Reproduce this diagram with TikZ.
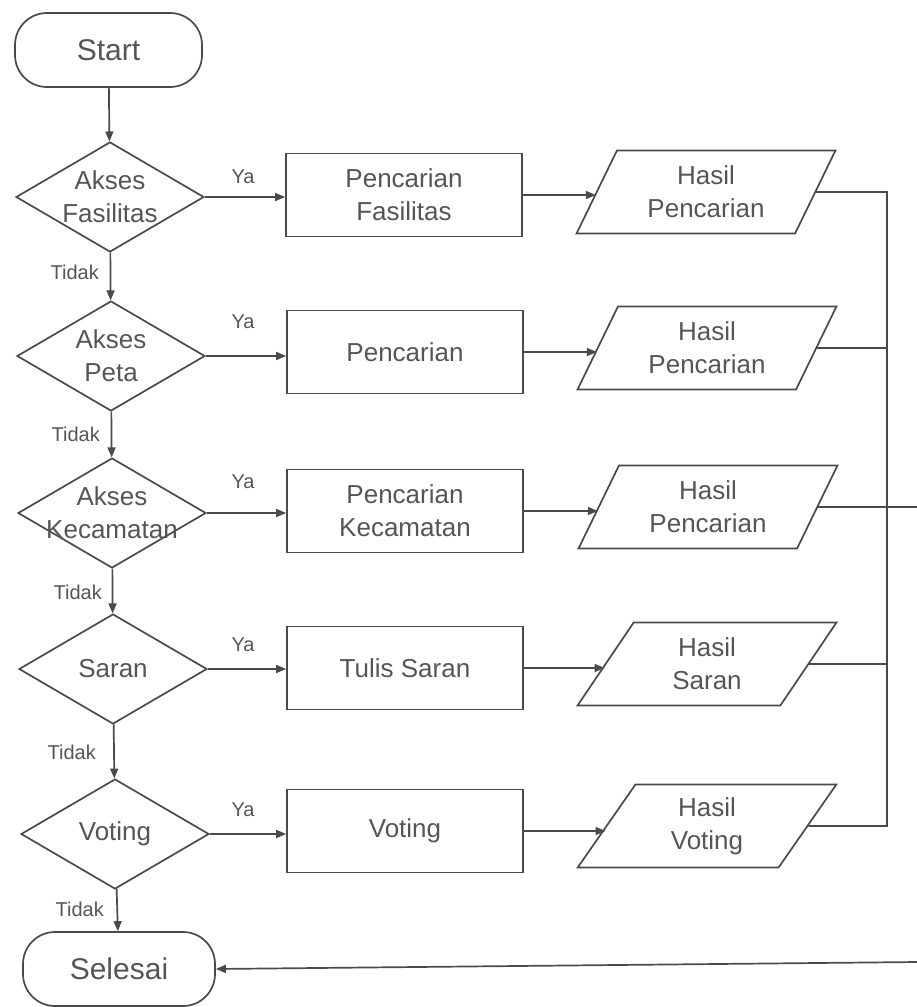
\documentclass[tikz,border=0pt]{standalone}
\usepackage{fontspec}
\setmainfont{Liberation Sans}
\usetikzlibrary{shapes.geometric,arrows.meta}
\definecolor{ink}{HTML}{4A4A4A}
\definecolor{txt}{HTML}{555555}
\begin{document}
\begin{tikzpicture}[x=1pt,y=-1pt,
  every node/.style={text=txt},
  line/.style={draw=ink,line width=1.7pt},
  arr/.style={line,-{Triangle[length=10pt,width=8pt]}},
  term/.style={line,rectangle,rounded corners=32pt,minimum width=#1,minimum height=74pt,
    inner sep=0pt,font=\fontsize{30}{34}\selectfont},
  decbox/.style={line,diamond,minimum width=188pt,minimum height=110pt,inner sep=0pt},
  dectext/.style={align=center,inner sep=0pt,font=\fontsize{26}{33}\selectfont},
  procbox/.style={line,rectangle,minimum width=236pt,minimum height=83pt,inner sep=0pt,
    align=center,font=\fontsize{26}{33}\selectfont},
  iobox/.style={line,trapezium,trapezium left angle=63,trapezium right angle=117,
    trapezium stretches=true,minimum width=259pt,minimum height=83pt,inner sep=0pt,
    align=center,font=\fontsize{26}{33}\selectfont},
  small/.style={inner sep=0pt,font=\fontsize{20}{22}\selectfont},
]
\useasboundingbox (0,0) rectangle (917,1007);

% terminals
\node[term=187pt] (start) at (108.5,50) {Start};
\node[term=192pt] (end) at (119,969) {Selesai};

% decisions
\node[decbox] (d1) at (110,197) {};
\node[dectext] (d1t) at (d1) {Akses\\Fasilitas};
\node[decbox] (d2) at (111,356) {};
\node[dectext] (d2t) at (d2) {Akses\\Peta};
\node[decbox] (d3) at (112,513) {};
\node[dectext] (d3t) at (d3) {Akses\\Kecamatan};
\node[decbox] (d4) at (113,669) {};
\node[dectext] (d4t) at (d4) {Saran};
\node[decbox] (d5) at (115,834) {};
\node[dectext] (d5t) at (d5) {Voting};

% processes
\node[procbox] (r1) at (404,195) {Pencarian\\Fasilitas};
\node[procbox] (r2) at (405,352) {Pencarian};
\node[procbox] (r3) at (405,511) {Pencarian\\Kecamatan};
\node[procbox] (r4) at (405,668) {Tulis Saran};
\node[procbox] (r5) at (405,831) {Voting};

% outputs
\node[iobox] (p1) at (706,192) {Hasil\\Pencarian};
\node[iobox] (p2) at (707,348) {Hasil\\Pencarian};
\node[iobox] (p3) at (708,507) {Hasil\\Pencarian};
\node[iobox] (p4) at (707,664) {Hasil\\Saran};
\node[iobox] (p5) at (707,826) {Hasil\\Voting};

% main column
\draw[arr] (start) -- (d1);
\draw[arr] (d1) -- (d2);
\draw[arr] (d2) -- (d3);
\draw[arr] (d3) -- (d4);
\draw[arr] (d4) -- (d5);
\draw[arr] (d5) -- (end);

\node[small,anchor=east] (n1) at (99,272) {Tidak};
\node[small,anchor=east] (n2) at (100,434) {Tidak};
\node[small,anchor=east] (n3) at (102,592) {Tidak};
\node[small,anchor=east] (n4) at (96,752) {Tidak};
\node[small,anchor=east] (n5) at (104,909) {Tidak};

% branches
\foreach \i/\ya in {1/177,2/322,3/482,4/645,5/810}{
  \draw[arr] (d\i.east) -- (d\i.east -| r\i.west);
  \draw[arr] (r\i.east) -- (r\i.east -| p\i.west);
  \node[small] (y\i) at (243,\ya) {Ya};
}

% collector on the right
\coordinate (bt) at (887,192);
\coordinate (bb) at (887,826);
\coordinate (rx) at (917,507);
\coordinate (ry) at (917,962);
\draw[line] (p1.east) -- (bt) -- (bb) -- (p5.east);
\draw[line] (p2.east) -- (p2.east -| bt);
\draw[line] (p4.east) -- (p4.east -| bt);
\draw[line] (p3.east) -- (rx);
\draw[arr] (ry) -- (end.east);
\end{tikzpicture}
\end{document}
